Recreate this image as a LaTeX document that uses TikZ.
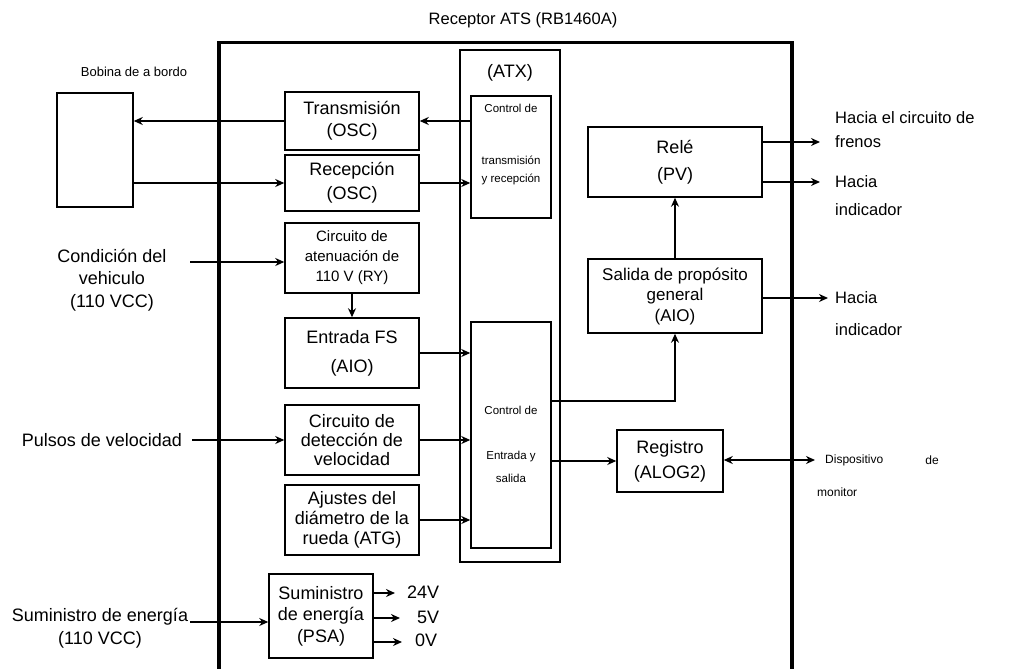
\documentclass[tikz,border=0pt]{standalone}
\usepackage{fontspec}
\setmainfont{Liberation Sans}
\usetikzlibrary{arrows.meta,calc}
\newcommand{\fsz}[2]{\fontsize{#1}{#2}\selectfont}
\begin{document}
\begin{tikzpicture}[x=1pt,y=-1pt,
  box/.style={draw, line width=1.5pt, inner sep=0pt, align=center},
  frame/.style={draw, line width=3.5pt, inner sep=0pt},
  txt/.style={inner sep=0pt, align=center},
  arr/.style={line width=2pt, -{Stealth[length=9pt,width=8pt]}},
  dbl/.style={line width=2pt, {Stealth[length=9pt,width=8pt]}-{Stealth[length=9pt,width=8pt]}}]
\useasboundingbox (0,0) rectangle (1020,669);
\clip (0,0) rectangle (1020,669);
\fill[white] (0,0) rectangle (1020,669);

% outer frame
\node[frame, minimum width=573pt, minimum height=700pt, anchor=north west] (ats) at (217,41) {};
\node[txt, font=\fsz{16.5}{18}] (title) at (523,20) {Receptor ATS (RB1460A)};

% ATX
\node[box, minimum width=100pt, minimum height=512pt] (atx) at (510,306) {};
\node[txt, font=\fsz{18}{20}] (atxl) at (510,73) {(ATX)};
\node[box, minimum width=80pt, minimum height=122pt] (ctr1) at (511,157) {};
\node[txt, font=\fsz{11.5}{13}] (c1a) at (511,108) {Control de};
\node[txt, font=\fsz{11.5}{13}] (c1b) at (511,160) {transmisión};
\node[txt, font=\fsz{11.5}{13}] (c1c) at (511,179) {y recepción};
\node[box, minimum width=80pt, minimum height=226pt] (ctr2) at (511,435) {};
\node[txt, font=\fsz{11.5}{13}] (c2a) at (511,410) {Control de};
\node[txt, font=\fsz{11.5}{13}] (c2b) at (511,457) {Entrada y};
\node[txt, font=\fsz{11.5}{13}] (c2c) at (511,478) {salida};

% bobina
\node[box, minimum width=76pt, minimum height=114pt] (bob) at (95,150) {};
\node[txt, font=\fsz{13}{15}] (bobl) at (134,72) {Bobina de a bordo};

% left column boxes
\node[box, minimum width=134pt, minimum height=58pt, font=\fsz{18}{22}] (tx) at (352,121) {Transmisión\\(OSC)};
\node[box, minimum width=134pt, minimum height=56pt, font=\fsz{18}{24}] (rx) at (352,183) {Recepción\\(OSC)};
\node[box, minimum width=134pt, minimum height=70pt, font=\fsz{15}{20}] (aten) at (352,258) {Circuito de\\atenuación de\\110 V (RY)};
\node[box, minimum width=134pt, minimum height=70pt, font=\fsz{18}{29}] (fs) at (352,353) {Entrada FS\\(AIO)};
\node[box, minimum width=134pt, minimum height=70pt, font=\fsz{18}{19}] (vel) at (352,440) {Circuito de\\detección de\\velocidad};
\node[box, minimum width=134pt, minimum height=70pt, font=\fsz{18}{20}] (ajus) at (352,520) {Ajustes del\\diámetro de la\\rueda (ATG)};
\node[box, minimum width=104pt, minimum height=84pt, font=\fsz{18}{21.5}] (psa) at (321,616) {Suministro\\de energía\\(PSA)};

% right boxes
\node[box, minimum width=174pt, minimum height=70pt, font=\fsz{18}{27}] (rele) at (675,162) {Relé\\(PV)};
\node[box, minimum width=174pt, minimum height=74pt, font=\fsz{17}{20.5}] (sal) at (675,296) {Salida de propósito\\general\\(AIO)};
\node[box, minimum width=106pt, minimum height=62pt, font=\fsz{18}{25}] (reg) at (670,461) {Registro\\(ALOG2)};

% left labels
\node[txt, font=\fsz{18}{22.5}] (cond) at (112,280) {Condición del\\vehiculo\\(110 VCC)};
\coordinate (condo) at (190,262);
\node[txt, font=\fsz{18}{22}] (puls) at (102,440) {Pulsos de velocidad};
\node[txt, font=\fsz{18}{23}] (sum) at (100,628.5) {Suministro de energía\\(110 VCC)};
\coordinate (sumo) at (190,622);

% voltage outputs
\node[txt, anchor=west, font=\fsz{18}{20}] (v24) at (407,592) {24V};
\node[txt, anchor=west, font=\fsz{18}{20}] (v5) at (417,617) {5V};
\node[txt, anchor=west, font=\fsz{18}{20}] (v0) at (415,640) {0V};
\coordinate (t24) at (395,593);
\coordinate (t5) at (400,618);
\coordinate (t0) at (402,642);

% right labels
\node[txt, anchor=west, align=left, font=\fsz{16.5}{24}] (fren) at (835,130) {Hacia el circuito de\\frenos};
\coordinate (tofren) at (820,142);
\node[txt, anchor=west, align=left, font=\fsz{16.5}{28}] (ind1) at (835,196) {Hacia\\indicador};
\coordinate (toind1) at (820,182);
\node[txt, anchor=west, align=left, font=\fsz{16.5}{32}] (ind2) at (835,314) {Hacia\\indicador};
\coordinate (toind2) at (828,298);
\node[txt, anchor=west, font=\fsz{12}{14}] (disp) at (825,460) {Dispositivo};
\node[txt, font=\fsz{12}{14}] (dde) at (932,460) {de};
\node[txt, anchor=west, font=\fsz{12}{14}] (mon) at (817,492) {monitor};
\coordinate (todisp) at (815,460);

% connectors
\draw[arr] (ctr1.west |- tx.east) -- (tx.east);
\draw[arr] (tx.west) -- (bob.east |- tx.west);
\draw[arr] (bob.east |- rx.west) -- (rx.west);
\draw[arr] (rx.east) -- (ctr1.west |- rx.east);
\draw[arr] (condo) -- (aten.west |- condo);
\draw[arr] (aten.south) -- (fs.north);
\draw[arr] (fs.east) -- (ctr2.west |- fs.east);
\draw[arr] ([xshift=10pt]puls.east) -- (vel.west |- puls.east);
\draw[arr] (vel.east) -- (ctr2.west |- vel.east);
\draw[arr] (ajus.east) -- (ctr2.west |- ajus.east);
\draw[arr] (sumo) -- (psa.west |- sumo);
\draw[arr] (psa.east |- t24) -- (t24);
\draw[arr] (psa.east |- t5) -- (t5);
\draw[arr] (psa.east |- t0) -- (t0);
\draw[arr] ([yshift=34pt]ctr2.east) -| (sal.south);
\draw[arr] (sal.north) -- (rele.south);
\draw[arr] (rele.east |- tofren) -- (tofren);
\draw[arr] (rele.east |- toind1) -- (toind1);
\draw[arr] (sal.east |- toind2) -- (toind2);
\draw[arr] (ctr2.east |- reg.west) -- (reg.west);
\draw[dbl] (reg.east |- todisp) -- (todisp);
\end{tikzpicture}
\end{document}
